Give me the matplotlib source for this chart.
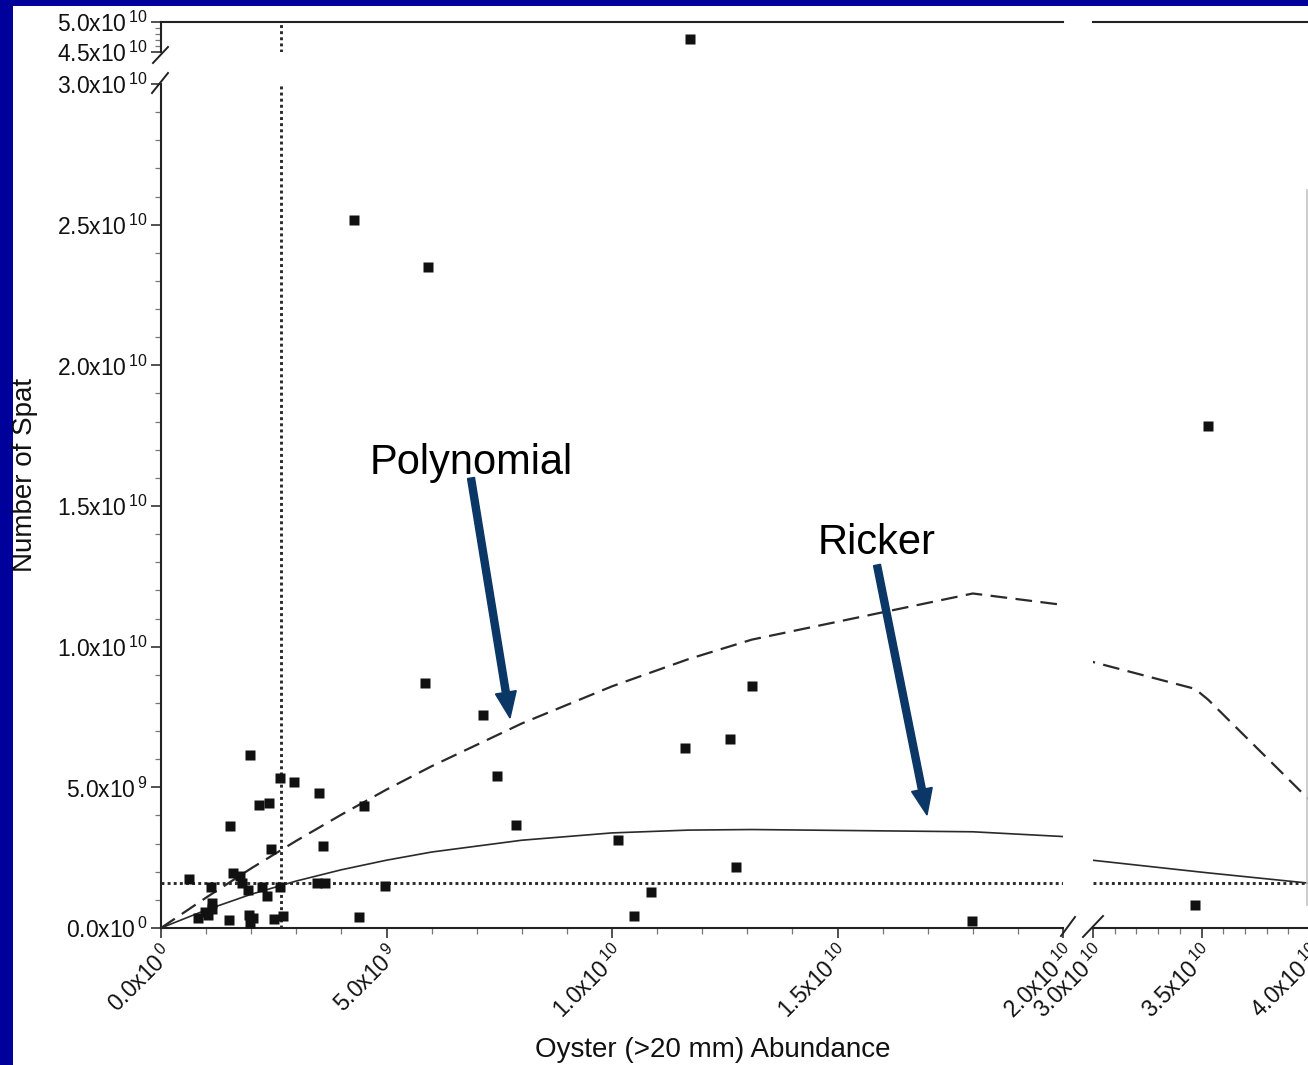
import numpy as np
import matplotlib
matplotlib.use('Agg')
import matplotlib.pyplot as plt
from matplotlib.patches import FancyArrow, Rectangle
from matplotlib.transforms import IdentityTransform
from matplotlib.lines import Line2D
from matplotlib.ticker import MultipleLocator, FixedLocator, FuncFormatter

plt.rcParams['font.family'] = ['Liberation Sans', 'DejaVu Sans']
plt.rcParams['mathtext.fontset'] = 'custom'
plt.rcParams['mathtext.rm'] = 'Liberation Sans'
plt.rcParams['mathtext.it'] = 'Liberation Sans:italic'
plt.rcParams['mathtext.bf'] = 'Liberation Sans:bold'

# ---------------- data (units of 1e9) ----------------
UNIT = 1e9
oyster = [1.97, 2.64, 2.95, 3.50, 2.17, 2.39, 4.50, 7.46, 7.88, 1.53,
          3.59, 2.44, 1.59, 1.75, 0.62, 1.79, 3.46, 3.63, 1.11, 1.93,
          2.24, 2.64, 4.96, 2.35, 1.13, 1.13, 0.97, 1.04, 0.82, 1.51,
          1.95, 2.04, 1.97, 2.50, 2.70, 4.39, 5.91, 4.27, 5.85, 13.11,
          7.15, 12.62, 11.61, 10.14, 12.74, 10.48, 10.87, 17.98, 35.30, 34.70,
          11.72]
spat = [6.15, 5.33, 5.19, 4.80, 4.37, 4.44, 4.34, 5.40, 3.66, 3.63,
        2.92, 2.81, 1.96, 1.85, 1.74, 1.60, 1.60, 1.60, 1.46, 1.35,
        1.46, 1.46, 1.49, 1.14, 0.89, 0.68, 0.57, 0.46, 0.36, 0.28,
        0.46, 0.36, 0.18, 0.32, 0.43, 0.39, 23.50, 25.17, 8.71, 8.60,
        7.57, 6.72, 6.40, 3.13, 2.17, 0.43, 1.28, 0.25, 17.85, 0.82,
        47.17]

fit_x = [0, 1, 2, 3, 4, 5, 6, 8, 10, 11.7, 13.1, 18.0, 34.7, 35.3, 40.0]
poly_y = [0, 1.08, 2.12, 3.10, 4.03, 4.92, 5.75, 7.27, 8.59, 9.56, 10.25, 11.89, 8.50, 8.12, 4.53]
ricker_y = [0, 0.64, 1.20, 1.67, 2.07, 2.41, 2.70, 3.12, 3.38, 3.48, 3.50, 3.42, 2.01, 1.96, 1.59]

oyster_threshold = 2.66
spat_threshold = 1.60

x_ticks_left = [0, 5, 10, 15, 20]
x_ticks_right = [30, 35, 40]
y_ticks_bottom = [0, 5, 10, 15, 20, 25, 30]
y_ticks_top = [45, 50]

label_x = 'Oyster (>20 mm) Abundance'
label_y = 'Number of Spat'
ann_poly = 'Polynomial'
ann_ricker = 'Ricker'

ox = np.array(oyster) * UNIT
sp = np.array(spat) * UNIT
fx = np.array(fit_x) * UNIT
py_ = np.array(poly_y) * UNIT
ry = np.array(ricker_y) * UNIT

# ---------------- figure ----------------
W, H = 1308, 1065
fig = plt.figure(figsize=(W / 100, H / 100), dpi=100, facecolor='#00009a')
fig.add_artist(Rectangle((13 / W, 0), 1, (H - 6) / H, transform=fig.transFigure,
                         facecolor='white', edgecolor='none', zorder=-10))


def px_axes(x0, x1, ytop, ybot):
    return fig.add_axes([x0 / W, (H - ybot) / H, (x1 - x0) / W, (ybot - ytop) / H])


def sci(v, pos=None):
    if abs(v) < 1e-6:
        return r'$\mathregular{0.0x10^{\,0}}$'
    e = int(np.floor(np.log10(v) + 1e-9))
    m = v / 10 ** e
    return r'$\mathregular{%.1fx10^{\,%d}}$' % (m, e)


ax_bl = px_axes(161, 1063, 84, 928)
ax_tl = px_axes(161, 1063, 22, 52)
ax_br = px_axes(1093, 1310, 84, 928)
ax_tr = px_axes(1093, 1310, 22, 52)

for ax in (ax_bl, ax_tl, ax_br, ax_tr):
    ax.set_facecolor('none')
    for s in ax.spines.values():
        s.set_visible(False)
        s.set_linewidth(1.5)
        s.set_color('#222222')

ax_bl.set_xlim(0, 20 * UNIT); ax_bl.set_ylim(0, 30 * UNIT)
ax_tl.set_xlim(0, 20 * UNIT); ax_tl.set_ylim(45 * UNIT, 50 * UNIT)
ax_br.set_xlim(30 * UNIT, 40 * UNIT); ax_br.set_ylim(0, 30 * UNIT)
ax_tr.set_xlim(30 * UNIT, 40 * UNIT); ax_tr.set_ylim(45 * UNIT, 50 * UNIT)

ax_bl.spines['left'].set_visible(True); ax_bl.spines['bottom'].set_visible(True)
ax_tl.spines['left'].set_visible(True); ax_tl.spines['top'].set_visible(True)
ax_br.spines['bottom'].set_visible(True)
ax_tr.spines['top'].set_visible(True)

fmt = FuncFormatter(sci)
tick_kw = dict(direction='out', color='#333333', labelsize=16.5, labelcolor='#111111')

# bottom-left
ax_bl.xaxis.set_major_locator(FixedLocator(np.array(x_ticks_left) * UNIT))
ax_bl.xaxis.set_minor_locator(MultipleLocator(UNIT))
ax_bl.yaxis.set_major_locator(FixedLocator(np.array(y_ticks_bottom) * UNIT))
ax_bl.yaxis.set_minor_locator(MultipleLocator(UNIT))
ax_bl.xaxis.set_major_formatter(fmt); ax_bl.yaxis.set_major_formatter(fmt)
ax_bl.tick_params(which='major', length=7, width=1.2, pad=3, **tick_kw)
ax_bl.tick_params(which='minor', length=4, width=0.9, direction='out', color='#777777')
ax_bl.tick_params(axis='both', which='both', top=False, right=False)

# top-left
ax_tl.yaxis.set_major_locator(FixedLocator(np.array(y_ticks_top) * UNIT))
ax_tl.yaxis.set_minor_locator(MultipleLocator(UNIT))
ax_tl.yaxis.set_major_formatter(fmt)
ax_tl.tick_params(which='major', length=7, width=1.2, pad=3, **tick_kw)
ax_tl.tick_params(which='minor', length=4, width=0.9, direction='out', color='#777777')
ax_tl.tick_params(axis='x', which='both', bottom=False, top=False, labelbottom=False)

# bottom-right
ax_br.xaxis.set_major_locator(FixedLocator(np.array(x_ticks_right) * UNIT))
ax_br.xaxis.set_minor_locator(MultipleLocator(UNIT))
ax_br.xaxis.set_major_formatter(fmt)
ax_br.tick_params(which='major', length=7, width=1.2, pad=3, **tick_kw)
ax_br.tick_params(which='minor', length=4, width=0.9, direction='out', color='#777777')
ax_br.tick_params(axis='y', which='both', left=False, right=False, labelleft=False)

# top-right
ax_tr.tick_params(axis='both', which='both', left=False, bottom=False,
                  labelleft=False, labelbottom=False)

for ax in (ax_bl, ax_br):
    for lab in ax.get_xticklabels():
        lab.set_rotation(45)
        lab.set_ha('right')
        lab.set_va('top')
        lab.set_rotation_mode('anchor')

# ---------------- data marks ----------------
line_col = '#2a2a2a'
for ax in (ax_bl, ax_br):
    ax.plot(fx, py_, color=line_col, lw=1.6, linestyle=(0, (7.5, 3.8)), zorder=3)
    ax.plot(fx, ry, color=line_col, lw=1.2, zorder=3)
    ax.axhline(spat_threshold * UNIT, color=line_col, lw=2.1,
               linestyle=(0, (1, 1.1)), dash_capstyle='butt', zorder=2)
for ax in (ax_bl, ax_tl):
    ax.axvline(oyster_threshold * UNIT, color=line_col, lw=2.1,
               linestyle=(0, (1, 1.1)), dash_capstyle='butt', zorder=2)
for ax in (ax_bl, ax_tl, ax_br, ax_tr):
    ax.plot(ox, sp, 's', color='#111111', ms=7.5, mec='none', zorder=4)


# ---------------- break marks ----------------
def seg(p0, p1, lw=1.4):
    fig.add_artist(Line2D([p0[0] / W, p1[0] / W], [1 - p0[1] / H, 1 - p1[1] / H],
                          transform=fig.transFigure, color='#222222', lw=lw))


seg((153, 63), (168, 47))
seg((152, 93), (168, 73))
seg((1061, 936), (1075, 917))
seg((1083, 937), (1103, 916))

# cropped edge artefact on the right
fig.add_artist(Line2D([1306.5 / W] * 2, [1 - 190 / H, 1 - 905 / H],
                      transform=fig.transFigure, color='#c4c4c4', lw=1.2))

# ---------------- labels ----------------
fig.text(25 / W, 1 - 475 / H, label_y, rotation=90, ha='center', va='center',
         fontsize=20, color='#111111')
fig.text(713 / W, 1 - 1050 / H, label_x, ha='center', va='center',
         fontsize=20, color='#111111')
fig.text(370 / W, 1 - 474 / H, ann_poly, ha='left', va='baseline', fontsize=30, color='black')
fig.text(818 / W, 1 - 554 / H, ann_ricker, ha='left', va='baseline', fontsize=30, color='black')

arrow_col = '#0b3766'
for (x0, y0), (x1, y1) in [((471, 478), (510, 718)), ((877, 565), (927, 815))]:
    fig.add_artist(FancyArrow(x0, H - y0, x1 - x0, -(y1 - y0), width=7, head_width=21,
                              head_length=26, length_includes_head=True,
                              color=arrow_col, transform=IdentityTransform()))

fig.savefig('out.png', dpi=100, facecolor=fig.get_facecolor())
